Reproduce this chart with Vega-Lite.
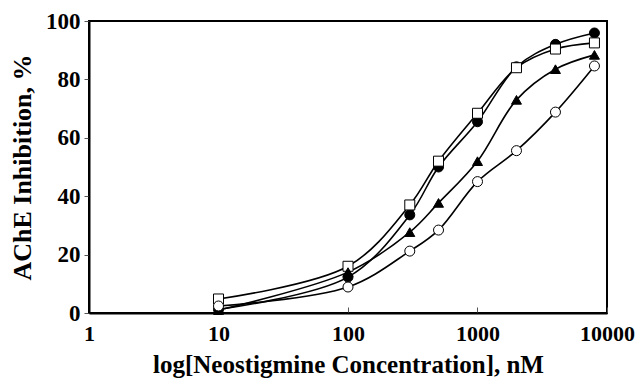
{
  "$schema": "https://vega.github.io/schema/vega-lite/v6.json",
  "width": 518,
  "height": 292,
  "autosize": "none",
  "padding": {"left": 89, "top": 21, "right": 30, "bottom": 67},
  "background": "white",
  "config": {
    "view": {"stroke": "black", "strokeWidth": 2},
    "font": "Liberation Serif"
  },
  "data": {
    "values": [
      {"conc": 10, "inh": 1.2, "s": "A"},
      {"conc": 100, "inh": 12.3, "s": "A"},
      {"conc": 300, "inh": 33.6, "s": "A"},
      {"conc": 500, "inh": 50, "s": "A"},
      {"conc": 1000, "inh": 65.5, "s": "A"},
      {"conc": 2000, "inh": 84.3, "s": "A"},
      {"conc": 4000, "inh": 92, "s": "A"},
      {"conc": 8000, "inh": 95.9, "s": "A"},
      {"conc": 10, "inh": 4.8, "s": "B"},
      {"conc": 100, "inh": 16, "s": "B"},
      {"conc": 300, "inh": 37, "s": "B"},
      {"conc": 500, "inh": 52, "s": "B"},
      {"conc": 1000, "inh": 68.4, "s": "B"},
      {"conc": 2000, "inh": 84, "s": "B"},
      {"conc": 4000, "inh": 90.4, "s": "B"},
      {"conc": 8000, "inh": 92.5, "s": "B"},
      {"conc": 10, "inh": 1, "s": "C"},
      {"conc": 100, "inh": 14, "s": "C"},
      {"conc": 300, "inh": 27.7, "s": "C"},
      {"conc": 500, "inh": 37.7, "s": "C"},
      {"conc": 1000, "inh": 52, "s": "C"},
      {"conc": 2000, "inh": 73, "s": "C"},
      {"conc": 4000, "inh": 83.5, "s": "C"},
      {"conc": 8000, "inh": 88.4, "s": "C"},
      {"conc": 10, "inh": 2.4, "s": "D"},
      {"conc": 100, "inh": 8.9, "s": "D"},
      {"conc": 300, "inh": 21.2, "s": "D"},
      {"conc": 500, "inh": 28.4, "s": "D"},
      {"conc": 1000, "inh": 45, "s": "D"},
      {"conc": 2000, "inh": 55.6, "s": "D"},
      {"conc": 4000, "inh": 68.8, "s": "D"},
      {"conc": 8000, "inh": 84.6, "s": "D"}
    ]
  },
  "encoding": {
    "x": {
      "field": "conc",
      "type": "quantitative",
      "scale": {"type": "log", "domain": [1, 10000]},
      "axis": {
        "title": "log[Neostigmine Concentration], nM",
        "values": [1, 10, 100, 1000, 10000],
        "format": "d",
        "grid": false,
        "labelFlush": false,
        "labelOverlap": false,
        "domainColor": "black",
        "domainWidth": 2,
        "tickColor": "#555",
        "tickSize": -6,
        "labelPadding": 16,
        "labelFont": "Liberation Serif",
        "labelFontSize": 22,
        "labelFontWeight": "bold",
        "labelColor": "black",
        "titleFont": "Liberation Serif",
        "titleFontSize": 25,
        "titleFontWeight": "bold",
        "titleColor": "black",
        "titlePadding": 8
      }
    },
    "y": {
      "field": "inh",
      "type": "quantitative",
      "scale": {"domain": [0, 100]},
      "axis": {
        "title": "AChE Inhibition, %",
        "values": [0, 20, 40, 60, 80, 100],
        "grid": false,
        "labelFlush": false,
        "domainColor": "black",
        "domainWidth": 2,
        "tickColor": "#555",
        "tickSize": 5,
        "labelPadding": 4,
        "labelFont": "Liberation Serif",
        "labelFontSize": 23,
        "labelFontWeight": "bold",
        "labelColor": "black",
        "titleFont": "Liberation Serif",
        "titleFontSize": 26,
        "titleFontWeight": "bold",
        "titleColor": "black",
        "titlePadding": 10
      }
    }
  },
  "layer": [
    {
      "mark": {"type": "line", "interpolate": "catmull-rom", "color": "black", "strokeWidth": 1.6},
      "encoding": {"detail": {"field": "s", "type": "nominal"}}
    },
    {
      "mark": {"type": "point", "stroke": "black", "strokeWidth": 1, "opacity": 1, "size": 100, "filled": false},
      "encoding": {
        "shape": {
          "field": "s",
          "type": "nominal",
          "scale": {"domain": ["A", "B", "C", "D"], "range": ["circle", "square", "triangle-up", "circle"]},
          "legend": null
        },
        "fill": {
          "field": "s",
          "type": "nominal",
          "scale": {"domain": ["A", "B", "C", "D"], "range": ["black", "white", "black", "white"]},
          "legend": null
        }
      }
    }
  ]
}
